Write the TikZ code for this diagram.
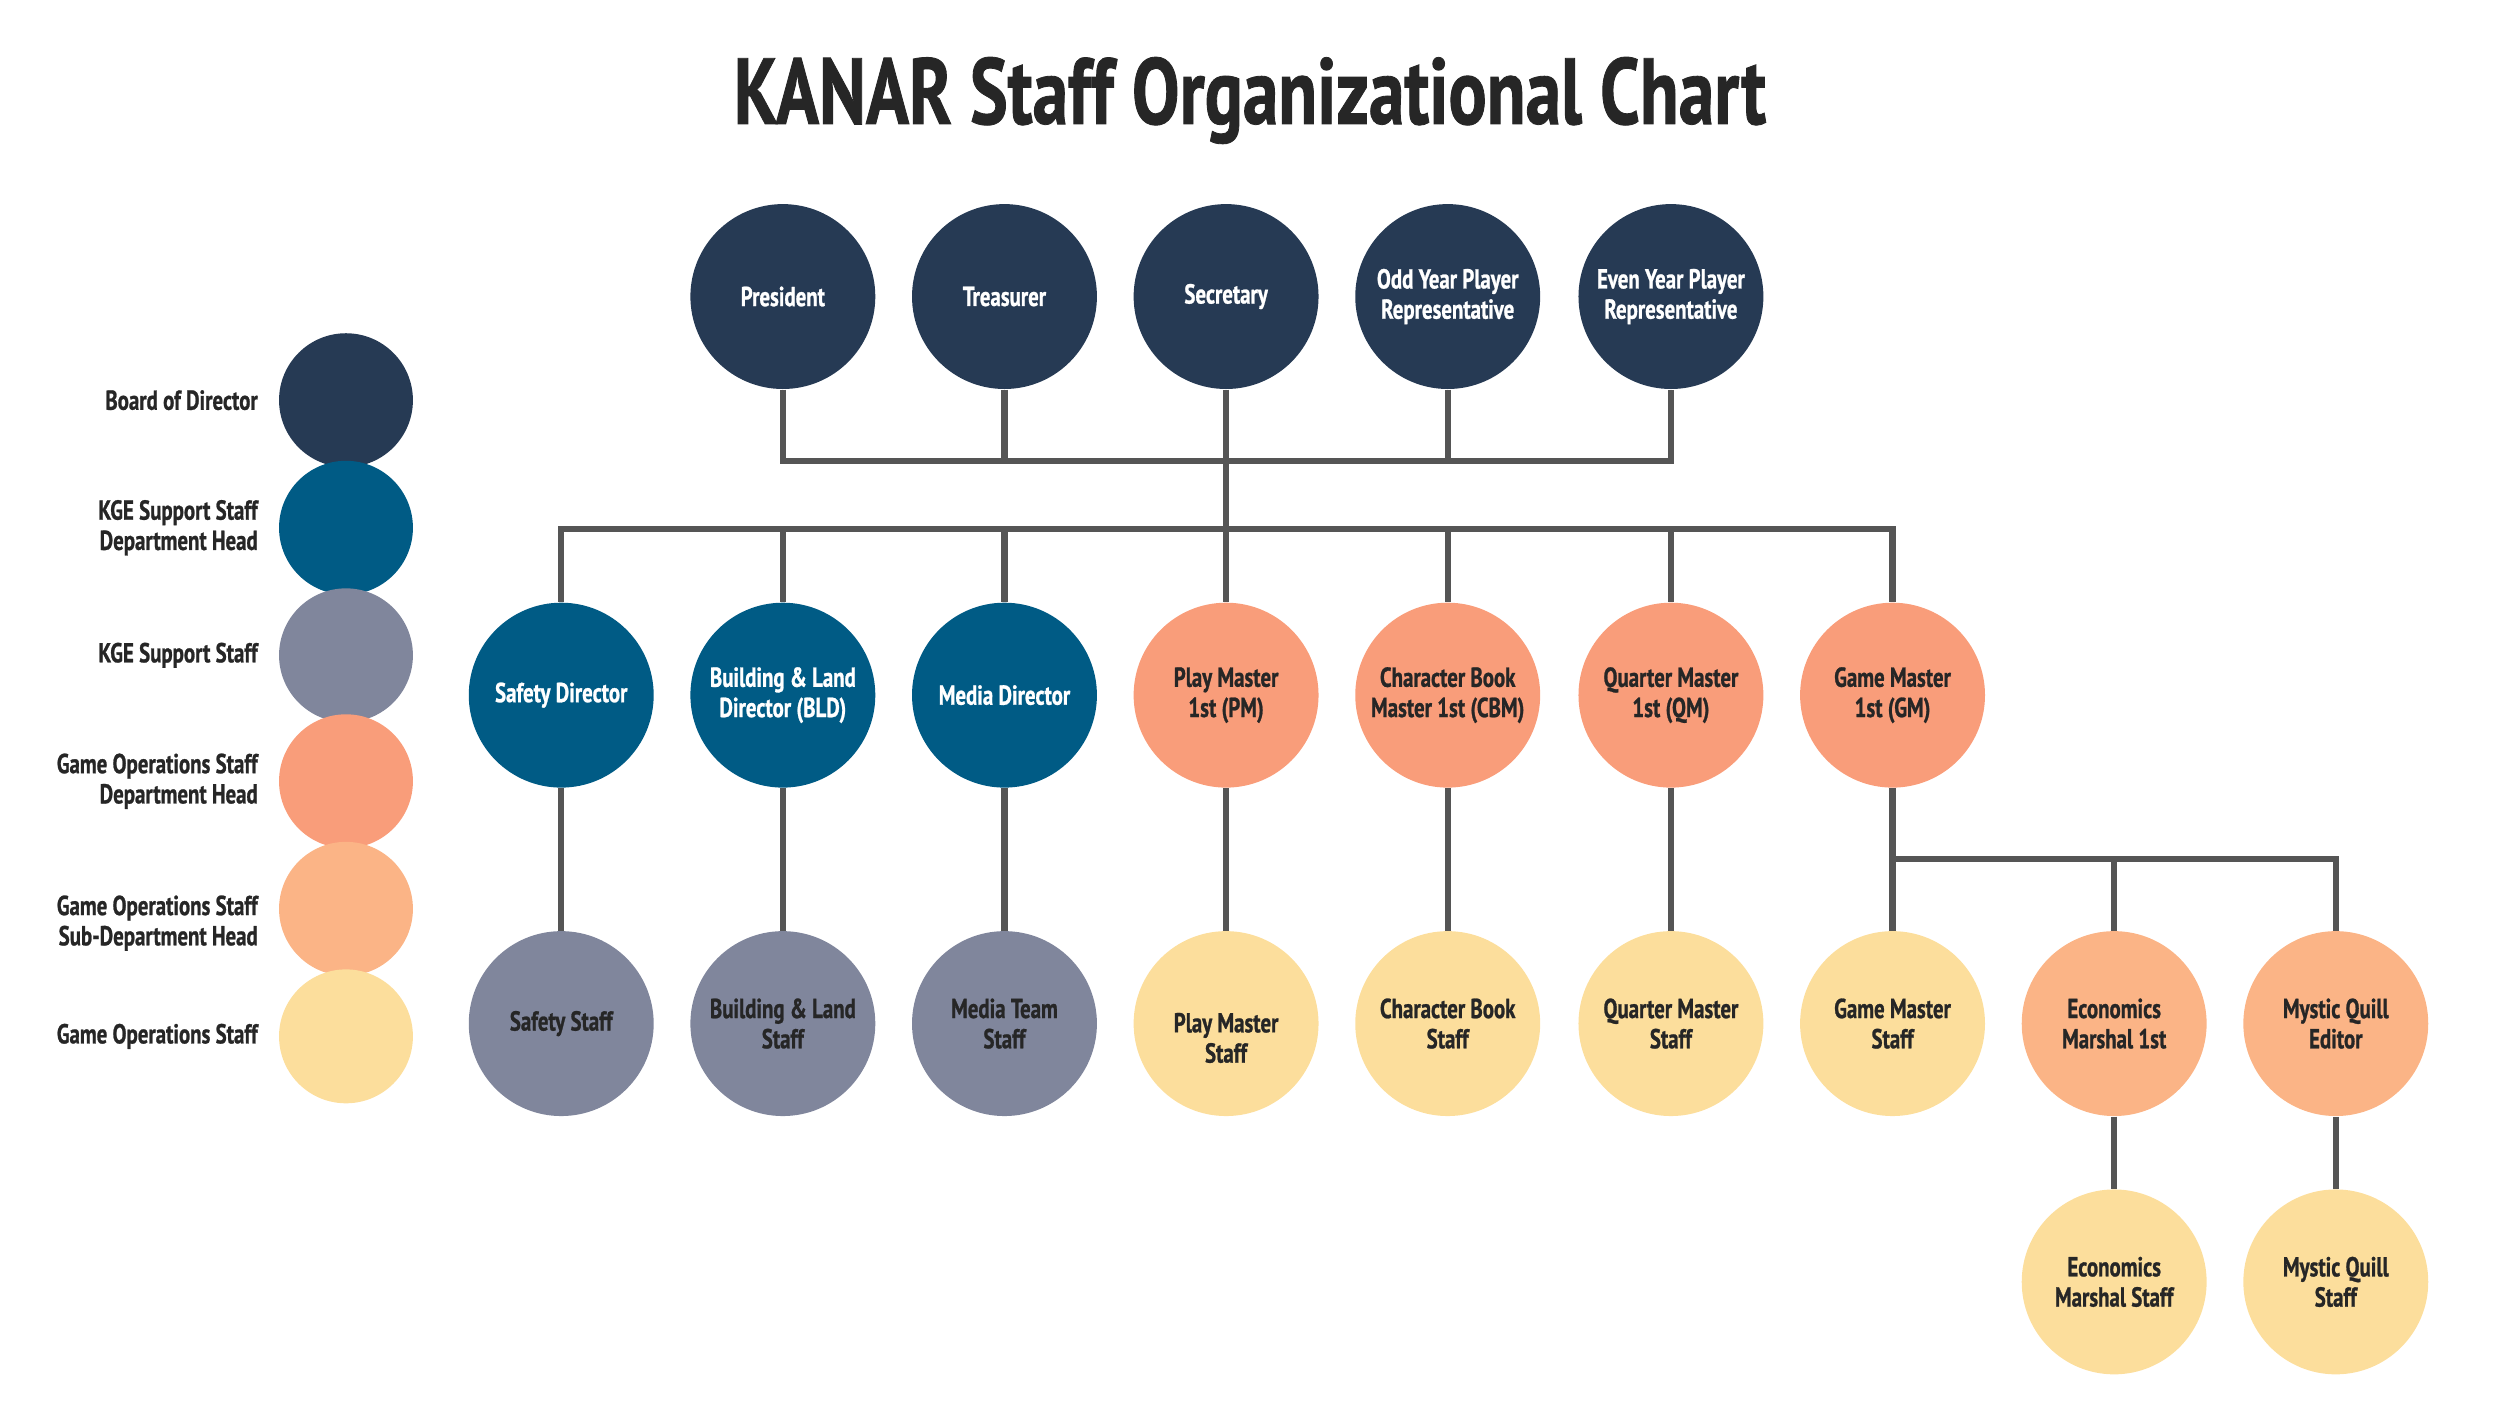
\documentclass[tikz,border=0pt]{standalone}
\usepackage{fontspec}
\newfontfamily\cf{PT Sans}[FakeStretch=0.76, BoldFeatures={FakeBold=0.9}]
\definecolor{cBoard}{HTML}{263A54}
\definecolor{cKgeHead}{HTML}{005B85}
\definecolor{cKge}{HTML}{80869C}
\definecolor{cGoHead}{HTML}{F99D7A}
\definecolor{cGoSub}{HTML}{FBB486}
\definecolor{cGo}{HTML}{FCDE9C}
\definecolor{cLine}{HTML}{555555}
\definecolor{cText}{HTML}{262626}
\tikzset{
  lbl/.style={font=\cf\bfseries\fontsize{9.8}{10.8}\selectfont},
  orgc/.style={circle, minimum size=2.32cm, inner sep=0pt, align=center, lbl},
  boardc/.style={orgc, fill=cBoard, text=white},
  kgeheadc/.style={orgc, fill=cKgeHead, text=white},
  kgec/.style={orgc, fill=cKge, text=cText},
  goheadc/.style={orgc, fill=cGoHead, text=cText},
  gosubc/.style={orgc, fill=cGoSub, text=cText},
  goc/.style={orgc, fill=cGo, text=cText},
  legc/.style={circle, minimum size=1.68cm, inner sep=0pt},
  legt/.style={lbl, align=right, anchor=east, inner sep=0pt, text=cText},
  link/.style={draw=cLine, line width=2.2pt},
}
\begin{document}
\begin{tikzpicture}[x=0.02cm, y=-0.02cm]
\useasboundingbox (0,0) rectangle (1568,888);
% title
\node[font=\cf\bfseries\fontsize{33.5}{38}\selectfont, text=cText] (title) at (784,63) {KANAR Staff Organizational Chart};
% legend
\node[legc, fill=cBoard] (l1) at (217,251) {};
\node[legc, fill=cKgeHead] (l2) at (217,331) {};
\node[legc, fill=cKge] (l3) at (217,411) {};
\node[legc, fill=cGoHead] (l4) at (217,490) {};
\node[legc, fill=cGoSub] (l5) at (217,570) {};
\node[legc, fill=cGo] (l6) at (217,650) {};
\node[legt] (t1) at (162,251) {Board of Director};
\node[legt] (t2) at (162,331) {KGE Support Staff\\Department Head};
\node[legt] (t3) at (162,411) {KGE Support Staff};
\node[legt] (t4) at (162,490) {Game Operations Staff\\Department Head};
\node[legt] (t5) at (162,579) {Game Operations Staff\\Sub-Department Head};
\node[legt] (t6) at (162,650) {Game Operations Staff};
% board
\node[boardc] (pres) at (491,186) {President};
\node[boardc] (treas) at (630,186) {Treasurer};
\node[boardc] (sec) at (769,186) {Secretary};
\node[boardc] (odd) at (908,186) {Odd Year Player\\Representative};
\node[boardc] (even) at (1048,186) {Even Year Player\\Representative};
% row 2
\node[kgeheadc] (safety) at (352,436) {Safety Director};
\node[kgeheadc] (bld) at (491,436) {Building \& Land\\Director (BLD)};
\node[kgeheadc] (media) at (630,436) {Media Director};
\node[goheadc] (pm) at (769,436) {Play Master\\1st (PM)};
\node[goheadc] (cbm) at (908,436) {Character Book\\Master 1st (CBM)};
\node[goheadc] (qm) at (1048,436) {Quarter Master\\1st (QM)};
\node[goheadc] (gm) at (1187,436) {Game Master\\1st (GM)};
% row 3
\node[kgec] (safetys) at (352,642) {Safety Staff};
\node[kgec] (blds) at (491,642) {Building \& Land\\Staff};
\node[kgec] (medias) at (630,642) {Media Team\\Staff};
\node[goc, label={[lbl, align=center, text=cText, yshift=-0.18cm]center:{Play Master\\Staff}}] (pms) at (769,642) {};
\node[goc] (cbms) at (908,642) {Character Book\\Staff};
\node[goc] (qms) at (1048,642) {Quarter Master\\Staff};
\node[goc] (gms) at (1187,642) {Game Master\\Staff};
\node[gosubc] (econ) at (1326,642) {Economics\\Marshal 1st};
\node[gosubc] (quill) at (1465,642) {Mystic Quill\\Editor};
% row 4
\node[goc] (econs) at (1326,804) {Economics\\Marshal Staff};
\node[goc] (quills) at (1465,804) {Mystic Quill\\Staff};
% connectors
\coordinate (b1) at (769,289);
\coordinate (b2) at (769,332);
\coordinate (b3) at (1187,539);
\draw[link] (pres.south) |- (b1) -| (even.south);
\draw[link] (treas.south) -- (treas.south |- b1);
\draw[link] (odd.south) -- (odd.south |- b1);
\draw[link] (sec.south) -- (b2);
\draw[link] (safety.north) |- (b2) -| (gm.north);
\foreach \n in {bld,media,pm,cbm,qm}{\draw[link] (\n.north) -- (\n.north |- b2);}
\draw[link] (safety) -- (safetys);
\draw[link] (bld) -- (blds);
\draw[link] (media) -- (medias);
\draw[link] (pm) -- (pms);
\draw[link] (cbm) -- (cbms);
\draw[link] (qm) -- (qms);
\draw[link] (gm) -- (gms);
\draw[link] (b3) -| (quill.north);
\draw[link] (econ.north) -- (econ.north |- b3);
\draw[link] (econ) -- (econs);
\draw[link] (quill) -- (quills);
\end{tikzpicture}
\end{document}
